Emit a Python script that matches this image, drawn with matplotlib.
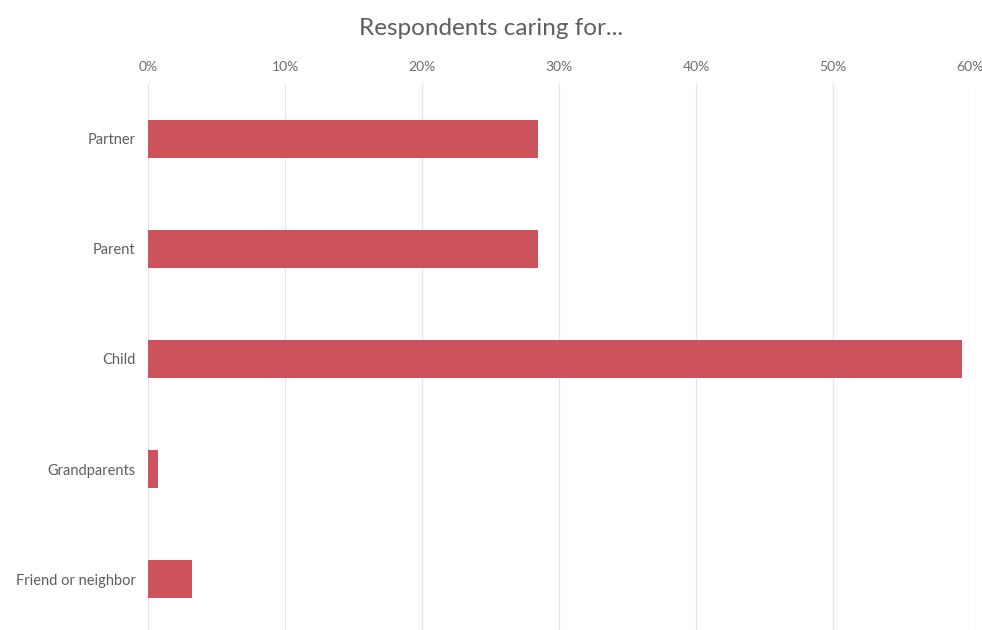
import matplotlib.pyplot as plt
from matplotlib.ticker import PercentFormatter

# share of respondents caring for each group (%)
categories = ["Partner", "Parent", "Child", "Grandparents", "Friend or neighbor"]
shares = [28.5, 28.5, 59.4, 0.7, 3.2]
xticks = [0, 10, 20, 30, 40, 50, 60]

plt.rcParams['font.family'] = ['Lato', 'DejaVu Sans']

fig = plt.figure(figsize=(9.82, 6.3), dpi=100)
ax = fig.add_axes([148 / 982, -4 / 630, 822 / 982, 550 / 630])

ax.barh(range(len(categories)), shares, height=0.35, color="#cc535b", zorder=2)

ax.set_xlim(0, 60)
ax.set_ylim(len(categories) - 0.5, -0.5)
ax.set_xticks(xticks)
ax.xaxis.set_major_formatter(PercentFormatter(decimals=0))
ax.xaxis.tick_top()
ax.set_yticks(range(len(categories)))
ax.set_yticklabels(categories)

ax.tick_params(axis="x", length=0, pad=8, labelsize=10, labelcolor="#6e6e6e")
ax.tick_params(axis="y", length=0, pad=9, labelsize=10.5, labelcolor="#5e5e5e")
ax.grid(axis="x", color="#e6e6e6", linewidth=1, zorder=0)
for s in ax.spines.values():
    s.set_visible(False)

fig.text(0.5, 0.955, "Respondents caring for...", ha="center", va="center",
         fontsize=17.5, color="#5e5e5e")

fig.savefig("out.png", dpi=100)
